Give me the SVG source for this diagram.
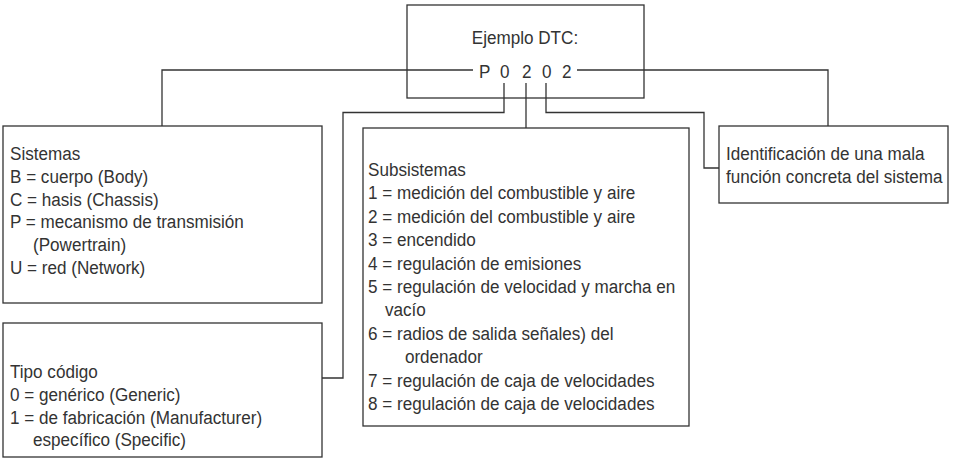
<svg xmlns="http://www.w3.org/2000/svg" width="954" height="458" viewBox="0 0 954 458">
<style>
.t { font-family: "Liberation Sans", Arial, sans-serif; font-size: 19px; fill: #333; }
.box { fill: #fff; stroke: #333; stroke-width: 1.3; }
.conn { fill: none; stroke: #333; stroke-width: 1.3; }
</style>
<rect width="954" height="458" fill="#fff"/>
<g id="dtc">
<rect class="box" x="407" y="5" width="237" height="93"/>
<g transform="translate(0,0) scale(0.9,1)">
<text class="t" x="583.3" y="44" text-anchor="middle">Ejemplo DTC:</text>
<text class="t" x="532.2 545 555.6 568 580 591 602.2 613 624.4" y="78">P 0 2 0 2</text>
</g>
</g>
<g id="sistemas">
<rect class="box" x="3" y="126" width="319" height="177"/>
<g transform="translate(10,0) scale(0.9,1)">
<text class="t" x="0" y="160">Sistemas</text>
<text class="t" x="0" y="182.8">B = cuerpo (Body)</text>
<text class="t" x="0" y="205.6">C = hasis  (Chassis)</text>
<text class="t" x="0" y="228.4">P = mecanismo de transmisión</text>
<text class="t" x="25.6" y="251.2">(Powertrain)</text>
<text class="t" x="0" y="274">U = red (Network)</text>
</g>
</g>
<g id="tipo">
<rect class="box" x="3" y="323" width="319" height="134"/>
<g transform="translate(10,0) scale(0.9,1)">
<text class="t" x="0" y="378">Tipo código</text>
<text class="t" x="0" y="401">0 = genérico (Generic)</text>
<text class="t" x="0" y="424">1 = de fabricación (Manufacturer)</text>
<text class="t" x="25.6" y="446">específico (Specific)</text>
</g>
</g>
<g id="subsistemas">
<rect class="box" x="363" y="128" width="326" height="298"/>
<g transform="translate(368,0) scale(0.9,1)">
<text class="t" x="0" y="176">Subsistemas</text>
<text class="t" x="0" y="199.4">1 = medición del combustible y aire</text>
<text class="t" x="0" y="222.8">2 = medición del combustible y aire</text>
<text class="t" x="0" y="246.2">3 = encendido</text>
<text class="t" x="0" y="269.6">4 = regulación de emisiones</text>
<text class="t" x="0" y="293">5 = regulación de velocidad y marcha en</text>
<text class="t" x="18.9" y="316.4">vacío</text>
<text class="t" x="0" y="339.8">6 = radios de salida señales) del</text>
<text class="t" x="41" y="363.2">ordenador</text>
<text class="t" x="0" y="386.6">7 = regulación de caja de velocidades</text>
<text class="t" x="0" y="410">8 = regulación de caja de velocidades</text>
</g>
</g>
<g id="identificacion">
<rect class="box" x="719" y="126" width="229" height="77"/>
<g transform="translate(726,0) scale(0.9,1)">
<text class="t" x="0" y="160">Identificación de una mala</text>
<text class="t" x="0" y="183">función concreta del sistema</text>
</g>
</g>
<g id="connectors">
<path class="conn" d="M473,70 H162 V126"/>
<path class="conn" d="M504,83 V112.5 H343 V378 H322"/>
<path class="conn" d="M526,83 V128"/>
<path class="conn" d="M546,83 V112.5 H704 V168 H719"/>
<path class="conn" d="M577,70 H828 V126"/>
</g>
</svg>
